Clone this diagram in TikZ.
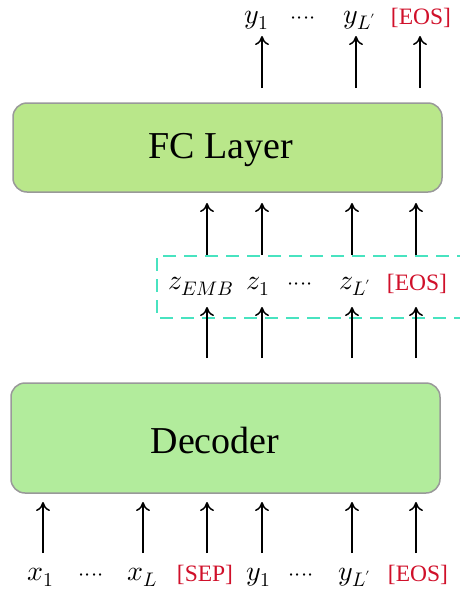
\documentclass[tikz,border=0pt]{standalone}
\usepackage{fontspec}
\usepackage{unicode-math}
\setmainfont{Liberation Serif}
\setmathfont{Latin Modern Math}
\usetikzlibrary{arrows.meta}
\definecolor{fcgreen}{HTML}{B9E78A}
\definecolor{decgreen}{HTML}{B2EC9C}
\definecolor{boxgray}{HTML}{999999}
\definecolor{tokred}{HTML}{D0102A}
\definecolor{dashcol}{HTML}{48E3C0}
\newcommand{\fourdots}{\ensuremath{{\cdot}{\cdot}{\cdot}{\cdot}}}
\tikzset{
  block/.style={draw=boxgray, line width=1.5pt, rounded corners=14pt},
  lab/.style={inner sep=0pt, font=\fontsize{22}{26}\selectfont, anchor=base},
  mlab/.style={inner sep=0pt, font=\fontsize{28}{32}\selectfont, anchor=base},
  redlab/.style={inner sep=0pt, anchor=base, font=\fontsize{23.5}{27}\selectfont, text=tokred},
  bigtxt/.style={font=\fontsize{38}{44}\selectfont, inner sep=0pt},
  uparrow/.style={line width=1.8pt, -{To[length=9pt,width=14pt,line width=1.5pt]}},
}
\begin{document}
\begin{tikzpicture}[x=1pt,y=-1pt]
\useasboundingbox (0,0) rectangle (460,590);
\clip (0,0) rectangle (460,590);
% boxes
\draw[block, fill=fcgreen] (13,103) rectangle (442,192);
\node[bigtxt] (fc) at (221,150) {FC Layer};
\draw[block, fill=decgreen] (11,383) rectangle (440,493);
\node[bigtxt] (dec) at (215,440) {Decoder};
% dashed box
\draw[dashcol, line width=1.8pt, dash pattern=on 13pt off 8pt] (470,256) -- (157,256) -- (157,318) -- (470,318);
% top labels
\node[mlab] (oy1) at (257,23) {$y_1$};
\node[lab] at (303,23) {\fourdots};
\node[mlab] (oyl) at (360,23) {$y_{L'}$};
\node[redlab] (oeos) at (421,24) {[EOS]};
\coordinate (ta1) at (262,88); \coordinate (tb1) at (262,36);
\coordinate (ta2) at (356,88); \coordinate (tb2) at (356,36);
\coordinate (ta3) at (420,88); \coordinate (tb3) at (420,36);
\draw[uparrow] (ta1) -- (tb1);
\draw[uparrow] (ta2) -- (tb2);
\draw[uparrow] (ta3) -- (tb3);
% middle labels
\node[mlab] (zemb) at (201,289) {$z_{EMB}$};
\node[mlab] (z1) at (258,289) {$z_1$};
\node[lab] at (300,289) {\fourdots};
\node[mlab] (zl) at (355,289) {$z_{L'}$};
\node[redlab] (zeos) at (417,290) {[EOS]};
\foreach \x [count=\i] in {207,262,352,416}{
  \coordinate (ua\i) at (\x,255); \coordinate (ub\i) at (\x,203);
  \draw[uparrow] (ua\i) -- (ub\i);
  \coordinate (la\i) at (\x,358); \coordinate (lb\i) at (\x,307);
  \draw[uparrow] (la\i) -- (lb\i);
}
% bottom labels
\node[mlab] (x1) at (41,580) {$x_1$};
\node[lab] at (91,580) {\fourdots};
\node[mlab] (xl) at (142,580) {$x_L$};
\node[redlab] (sep) at (205,581) {[SEP]};
\node[mlab] (y1) at (259,580) {$y_1$};
\node[lab] at (301,580) {\fourdots};
\node[mlab] (yl) at (355,580) {$y_{L'}$};
\node[redlab] (beos) at (418,581) {[EOS]};
\foreach \x [count=\i] in {43,143,207,262,352,416}{
  \coordinate (ba\i) at (\x,553); \coordinate (bb\i) at (\x,502);
  \draw[uparrow] (ba\i) -- (bb\i);
}
\end{tikzpicture}
\end{document}
